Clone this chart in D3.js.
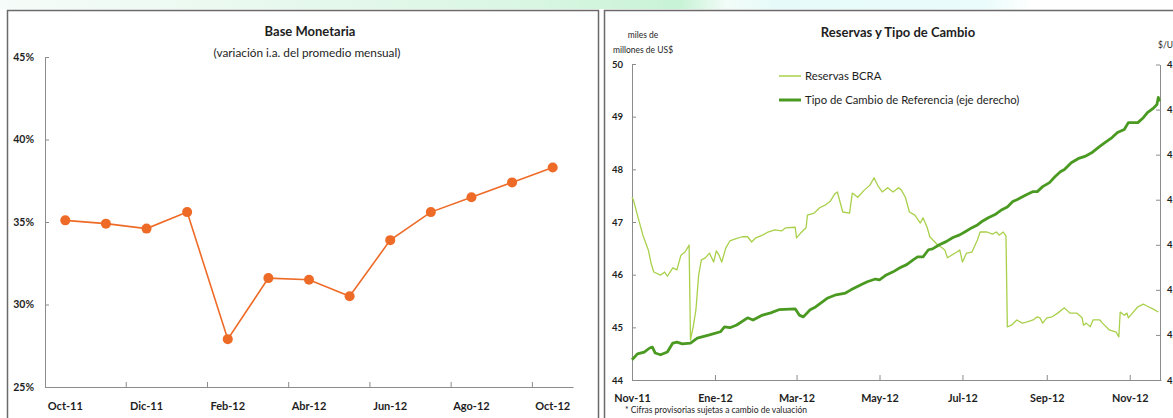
<!DOCTYPE html>
<html>
<head>
<meta charset="utf-8">
<script src="https://cdn.jsdelivr.net/npm/d3@7"></script>
<style>
  html, body { margin: 0; padding: 0; background: #fff; }
  svg { display: block; font-family: Lato, "DejaVu Sans", sans-serif; }
</style>
</head>
<body>
<svg id="chart" width="1173" height="418"></svg>
<script>
// ---- Base Monetaria: variación i.a. del promedio mensual (%) ----
const bmMonths = ["Oct-11","Nov-11","Dic-11","Ene-12","Feb-12","Mar-12","Abr-12","May-12","Jun-12","Jul-12","Ago-12","Sep-12","Oct-12"];
const bmValues = [35.1, 34.9, 34.6, 35.6, 27.9, 31.6, 31.5, 30.5, 33.9, 35.6, 36.5, 37.4, 38.3];
const bmYTicks = [25, 30, 35, 40, 45];

// ---- Reservas BCRA (miles de millones de US$) ----
const reservas = [
  ["2011-11-01",47.47],["2011-11-02",47.42],["2011-11-05",47.13],["2011-11-09",46.75],
  ["2011-11-13",46.47],["2011-11-15",46.22],["2011-11-17",46.05],["2011-11-22",45.99],
  ["2011-11-25",46.05],["2011-11-27",45.97],["2011-11-29",46.05],["2011-12-01",46.13],
  ["2011-12-04",46.09],["2011-12-07",46.37],["2011-12-10",46.43],["2011-12-13",46.56],
  ["2011-12-14",44.76],["2011-12-16",45.01],["2011-12-18",45.33],["2011-12-20",45.99],
  ["2011-12-22",46.28],["2011-12-25",46.32],["2011-12-28",46.41],["2011-12-31",46.24],
  ["2012-01-02",46.45],["2012-01-04",46.37],["2012-01-06",46.24],["2012-01-09",46.51],
  ["2012-01-12",46.64],["2012-01-16",46.68],["2012-01-21",46.72],["2012-01-25",46.72],
  ["2012-01-28",46.62],["2012-01-31",46.70],["2012-02-05",46.75],["2012-02-09",46.81],
  ["2012-02-14",46.85],["2012-02-19",46.83],["2012-02-22",46.89],["2012-02-29",46.90],
  ["2012-03-01",46.70],["2012-03-04",46.79],["2012-03-08",46.89],["2012-03-09",47.13],
  ["2012-03-14",47.17],["2012-03-18",47.27],["2012-03-22",47.32],["2012-03-26",47.40],
  ["2012-03-29",47.53],["2012-03-31",47.57],["2012-04-04",47.19],["2012-04-09",47.17],
  ["2012-04-11",47.55],["2012-04-15",47.47],["2012-04-20",47.61],["2012-04-24",47.70],
  ["2012-04-27",47.84],["2012-04-30",47.68],["2012-05-03",47.57],["2012-05-07",47.65],
  ["2012-05-11",47.57],["2012-05-15",47.65],["2012-05-17",47.61],["2012-05-20",47.47],
  ["2012-05-23",47.19],["2012-05-27",47.13],["2012-05-31",46.98],["2012-06-02",47.08],
  ["2012-06-05",46.90],["2012-06-07",46.72],["2012-06-13",46.56],["2012-06-16",46.51],
  ["2012-06-18",46.47],["2012-06-20",46.32],["2012-06-23",46.37],["2012-06-27",46.43],
  ["2012-06-29",46.47],["2012-07-01",46.24],["2012-07-04",46.41],["2012-07-08",46.43],
  ["2012-07-12",46.66],["2012-07-14",46.81],["2012-07-19",46.81],["2012-07-23",46.77],
  ["2012-07-26",46.81],["2012-07-28",46.75],["2012-07-31",46.81],["2012-08-02",46.73],
  ["2012-08-03",45.01],["2012-08-06",45.04],["2012-08-10",45.14],["2012-08-14",45.08],
  ["2012-08-17",45.10],["2012-08-22",45.14],["2012-08-25",45.20],["2012-08-27",45.18],
  ["2012-08-29",45.08],["2012-09-01",45.18],["2012-09-05",45.20],["2012-09-09",45.27],
  ["2012-09-14",45.37],["2012-09-18",45.27],["2012-09-23",45.27],["2012-09-27",45.18],
  ["2012-09-28",45.04],["2012-09-30",45.08],["2012-10-03",45.01],["2012-10-05",45.14],
  ["2012-10-10",45.14],["2012-10-12",45.08],["2012-10-17",44.95],["2012-10-22",44.91],
  ["2012-10-24",44.82],["2012-10-25",45.29],["2012-10-28",45.23],["2012-10-30",45.27],
  ["2012-10-31",45.18],["2012-11-03",45.27],["2012-11-07",45.39],["2012-11-11",45.44],
  ["2012-11-14",45.40],["2012-11-18",45.35],["2012-11-22",45.29]
];

// ---- Tipo de Cambio de Referencia ($/US$) ----
const tipoCambio = [
  ["2011-11-01",4.245],["2011-11-05",4.258],["2011-11-10",4.262],["2011-11-14",4.271],
  ["2011-11-16",4.273],["2011-11-18",4.260],["2011-11-22",4.256],["2011-11-27",4.262],
  ["2011-12-01",4.282],["2011-12-04",4.284],["2011-12-08",4.280],["2011-12-14",4.282],
  ["2011-12-19",4.293],["2011-12-28",4.300],["2012-01-05",4.307],["2012-01-08",4.318],
  ["2012-01-12",4.316],["2012-01-17",4.322],["2012-01-25",4.338],["2012-01-29",4.333],
  ["2012-02-05",4.344],["2012-02-11",4.349],["2012-02-17",4.356],["2012-02-29",4.358],
  ["2012-03-03",4.344],["2012-03-06",4.340],["2012-03-11",4.356],["2012-03-15",4.362],
  ["2012-03-19",4.371],["2012-03-24",4.382],["2012-03-30",4.389],["2012-04-06",4.393],
  ["2012-04-10",4.400],["2012-04-17",4.411],["2012-04-22",4.418],["2012-04-28",4.424],
  ["2012-05-01",4.422],["2012-05-06",4.433],["2012-05-11",4.440],["2012-05-16",4.449],
  ["2012-05-21",4.456],["2012-05-26",4.467],["2012-05-29",4.473],["2012-06-02",4.473],
  ["2012-06-06",4.489],["2012-06-09",4.491],["2012-06-14",4.500],["2012-06-19",4.507],
  ["2012-06-24",4.516],["2012-06-29",4.522],["2012-07-03",4.529],["2012-07-08",4.538],
  ["2012-07-12",4.544],["2012-07-15",4.551],["2012-07-20",4.560],["2012-07-25",4.567],
  ["2012-07-30",4.578],["2012-08-03",4.584],["2012-08-07",4.596],["2012-08-10",4.600],
  ["2012-08-17",4.611],["2012-08-22",4.618],["2012-08-25",4.618],["2012-08-29",4.629],
  ["2012-09-03",4.638],["2012-09-07",4.651],["2012-09-11",4.662],["2012-09-14",4.667],
  ["2012-09-19",4.682],["2012-09-24",4.691],["2012-09-29",4.696],["2012-10-04",4.704],
  ["2012-10-09",4.716],["2012-10-14",4.727],["2012-10-19",4.738],["2012-10-23",4.749],
  ["2012-10-28",4.756],["2012-10-31",4.771],["2012-11-03",4.771],["2012-11-07",4.771],
  ["2012-11-11",4.782],["2012-11-14",4.793],["2012-11-18",4.802],["2012-11-21",4.811],
  ["2012-11-22",4.827],["2012-11-23",4.818]
];

const resYTicks = [44, 45, 46, 47, 48, 49, 50];
const tcYTicks = [4.2, 4.3, 4.4, 4.5, 4.6, 4.7, 4.8, 4.9];
const xTickDates = ["2011-11-01","2012-01-01","2012-03-01","2012-05-01","2012-07-01","2012-09-01","2012-11-01"];
const xTickLabels = ["Nov-11","Ene-12","Mar-12","May-12","Jul-12","Sep-12","Nov-12"];
const xDomain = ["2011-11-01","2012-11-24"];

// ---- drawing ----
const svg = d3.select("#chart");
const parse = d3.timeParse("%Y-%m-%d");
const AXIS = "#8c8c8c";
const TEXT = "#1e1e1e";
const ORANGE = "#ee6b27";
const LIGHT_GREEN = "#a9d04b";
const DARK_GREEN = "#4a9a22";

svg.append("rect").attr("width", 1173).attr("height", 418).attr("fill", "#fff");

// faint page band above the panels
const defs = svg.append("defs");
const band = defs.append("linearGradient").attr("id", "topband").attr("x1", 0).attr("x2", 1);
[[0, "#f6fcf9"], [0.2, "#eaf9f0"], [0.45, "#d9f6e3"], [0.58, "#c8f3d6"], [0.62, "#f2fcf8"],
 [0.66, "#e6fbf9"], [0.84, "#eafcfb"], [0.88, "#ffffff"], [1, "#ffffff"]]
  .forEach(([o, c]) => band.append("stop").attr("offset", o).attr("stop-color", c));
svg.append("rect").attr("x", 0).attr("y", 0).attr("width", 1173).attr("height", 9).attr("fill", "url(#topband)");

// panel frames
svg.append("rect").attr("x", 7.5).attr("y", 10.5).attr("width", 591).attr("height", 420)
  .attr("fill", "#fff").attr("stroke", "#6a6a6a").attr("stroke-width", 1.5);
svg.append("rect").attr("x", 604.5).attr("y", 10.5).attr("width", 600).attr("height", 420)
  .attr("fill", "#fff").attr("stroke", "#6a6a6a").attr("stroke-width", 1.5);

function styleAxis(g, size) {
  g.select(".domain").attr("stroke", AXIS).attr("stroke-width", 1);
  g.selectAll(".tick line").attr("stroke", AXIS).attr("stroke-width", 1);
  g.selectAll(".tick text").attr("fill", TEXT).attr("font-size", size).attr("font-weight", "bold")
    .attr("font-family", "Lato, 'DejaVu Sans', sans-serif");
}

// ===== Left panel: Base Monetaria =====
const L = svg.append("g");
L.append("text").attr("x", 310).attr("y", 36).attr("text-anchor", "middle")
  .attr("font-size", 13).attr("font-weight", "bold").attr("fill", TEXT).text("Base Monetaria");
L.append("text").attr("x", 307).attr("y", 57).attr("text-anchor", "middle")
  .attr("font-size", 11.8).attr("fill", TEXT).text("(variación i.a. del promedio mensual)");

const bmX = d3.scaleBand().domain(bmMonths).range([45, 573]).padding(0);
const bmY = d3.scaleLinear().domain([25, 45]).range([387, 57]);
const cx = m => bmX(m) + bmX.bandwidth() / 2;

const bmYAxis = L.append("g").attr("transform", "translate(45,0)")
  .call(d3.axisLeft(bmY).tickValues(bmYTicks).tickSize(-4).tickSizeOuter(0).tickPadding(11)
    .tickFormat(d => d + "%"));
styleAxis(bmYAxis, 10.5);

const bmXAxis = L.append("g").attr("transform", "translate(0,387)")
  .call(d3.axisBottom(bmX).tickValues(bmMonths.filter((m, i) => i % 2 === 0))
    .tickSize(0).tickSizeOuter(0).tickPadding(15));
styleAxis(bmXAxis, 11);
// tick marks on the boundaries between every second month
bmXAxis.selectAll(".bnd").data(bmMonths.filter((m, i) => i > 0 && i % 2 === 0)).join("line")
  .attr("class", "bnd").attr("x1", d => bmX(d)).attr("x2", d => bmX(d))
  .attr("y1", 0).attr("y2", -5).attr("stroke", AXIS);

const bmData = bmMonths.map((m, i) => ({ m, v: bmValues[i] }));
L.append("path").datum(bmData)
  .attr("d", d3.line().x(d => cx(d.m)).y(d => bmY(d.v)))
  .attr("fill", "none").attr("stroke", ORANGE).attr("stroke-width", 1.6);
L.selectAll("circle.pt").data(bmData).join("circle").attr("class", "pt")
  .attr("cx", d => cx(d.m)).attr("cy", d => bmY(d.v)).attr("r", 5).attr("fill", ORANGE);

// ===== Right panel: Reservas y Tipo de Cambio =====
const R = svg.append("g");
R.append("text").attr("x", 898).attr("y", 37).attr("text-anchor", "middle")
  .attr("font-size", 13).attr("font-weight", "bold").attr("fill", TEXT).text("Reservas y Tipo de Cambio");
R.append("text").attr("x", 643).attr("y", 38).attr("text-anchor", "middle")
  .attr("font-size", 8.5).attr("fill", TEXT).text("miles de");
R.append("text").attr("x", 643).attr("y", 53).attr("text-anchor", "middle")
  .attr("font-size", 8.5).attr("fill", TEXT).text("millones de US$");
R.append("text").attr("x", 1158).attr("y", 48)
  .attr("font-size", 8.5).attr("fill", TEXT).text("$/US$");
R.append("text").attr("x", 625).attr("y", 413)
  .attr("font-size", 8.5).attr("fill", TEXT).text("* Cifras provisorias sujetas a cambio de valuación");

const rx = d3.scaleTime().domain(xDomain.map(parse)).range([632, 1161]);
const ryL = d3.scaleLinear().domain([44, 50]).range([380, 64]);
const ryR = d3.scaleLinear().domain([4.2, 4.9]).range([380, 64.5]);

const rxAxis = R.append("g").attr("transform", "translate(0,380)")
  .call(d3.axisBottom(rx).tickValues(xTickDates.map(parse)).tickSize(-5).tickSizeOuter(0)
    .tickPadding(14).tickFormat((d, i) => xTickLabels[i]));
styleAxis(rxAxis, 10.8);

const ryLAxis = R.append("g").attr("transform", "translate(632,0)")
  .call(d3.axisLeft(ryL).tickValues(resYTicks).tickSize(-4).tickSizeOuter(0).tickPadding(9)
    .tickFormat(d3.format("d")));
styleAxis(ryLAxis, 9.5);

const ryRAxis = R.append("g").attr("transform", "translate(1160,0)")
  .call(d3.axisRight(ryR).tickValues(tcYTicks).tickSize(-4).tickSizeOuter(0).tickPadding(7)
    .tickFormat(d => d3.format(".1f")(d).replace(".", ",")));
styleAxis(ryRAxis, 9.5);

const resData = reservas.map(([d, v]) => ({ d: parse(d), v }));
const tcData = tipoCambio.map(([d, v]) => ({ d: parse(d), v }));

R.append("path").datum(resData)
  .attr("d", d3.line().x(d => rx(d.d)).y(d => ryL(d.v)))
  .attr("fill", "none").attr("stroke", LIGHT_GREEN).attr("stroke-width", 1.3).attr("stroke-linejoin", "round");
R.append("path").datum(tcData)
  .attr("d", d3.line().x(d => rx(d.d)).y(d => ryR(d.v)))
  .attr("fill", "none").attr("stroke", DARK_GREEN).attr("stroke-width", 2.8).attr("stroke-linejoin", "round");

// legend
const legend = [
  { label: "Reservas BCRA", color: LIGHT_GREEN, w: 1.5, y: 76 },
  { label: "Tipo de Cambio de Referencia (eje derecho)", color: DARK_GREEN, w: 3, y: 100 }
];
const lg = R.append("g");
lg.selectAll("line").data(legend).join("line")
  .attr("x1", 779).attr("x2", 801).attr("y1", d => d.y).attr("y2", d => d.y)
  .attr("stroke", d => d.color).attr("stroke-width", d => d.w);
lg.selectAll("text").data(legend).join("text")
  .attr("x", 805).attr("y", d => d.y + 4).attr("font-size", 11.3).attr("fill", TEXT)
  .text(d => d.label);
</script>
</body>
</html>
